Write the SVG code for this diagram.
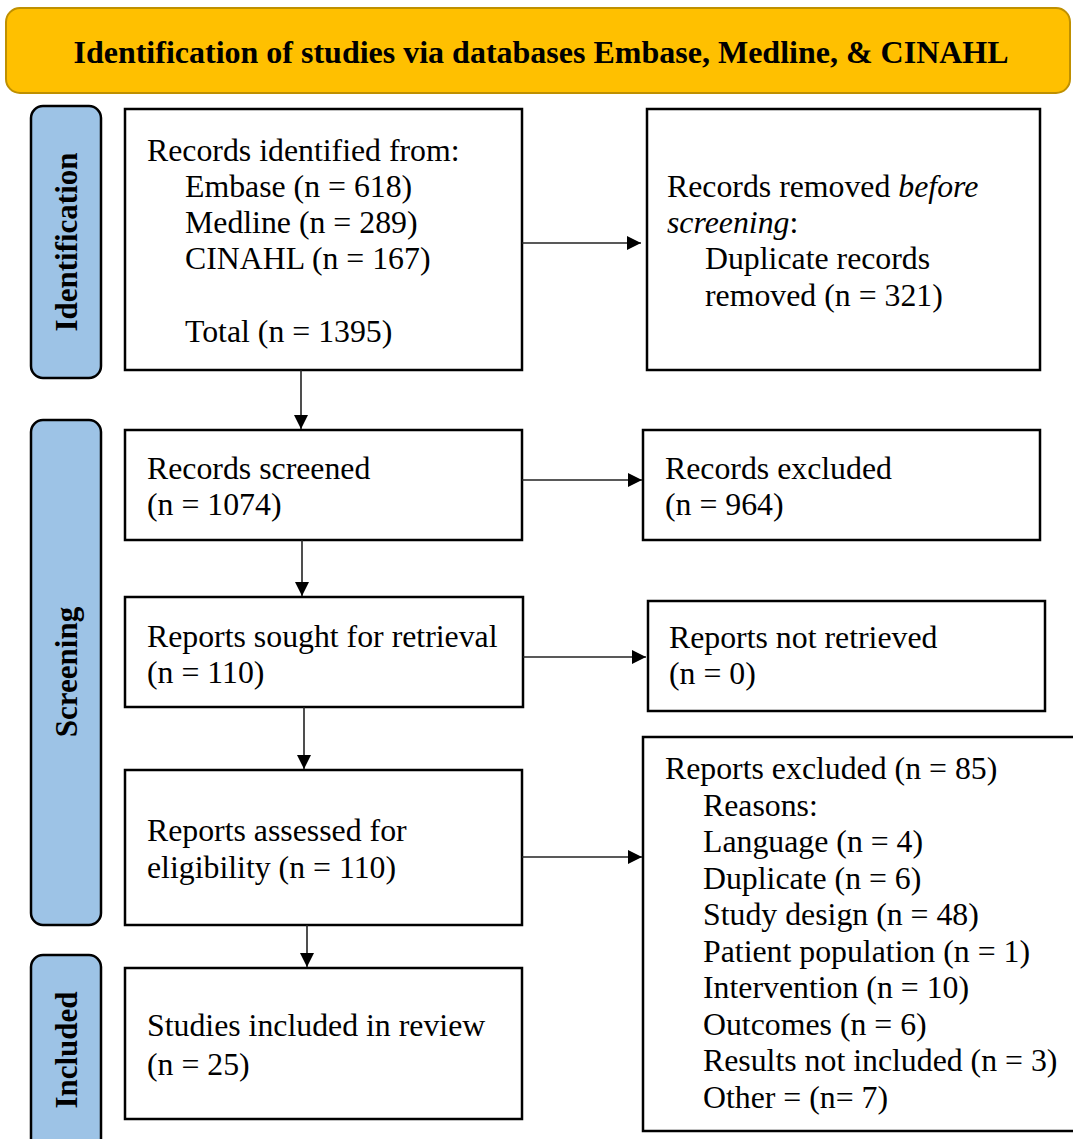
<svg xmlns="http://www.w3.org/2000/svg" width="1073" height="1139" viewBox="0 0 1073 1139">
<style>
.box{fill:#fff;stroke:#000;stroke-width:2.5}
.band{fill:#9DC3E6;stroke:#000;stroke-width:2.5}
.t{font-family:"Liberation Serif","Times New Roman",serif;font-size:31.8px;fill:#000}
.b{font-family:"Liberation Serif","Times New Roman",serif;font-size:31px;font-weight:bold;fill:#000}
.c{stroke:#222;stroke-width:1.6;fill:none;marker-end:url(#ah)}
</style>
<defs>
<marker id="ah" viewBox="0 0 10 10" refX="10" refY="5" markerWidth="14" markerHeight="14" markerUnits="userSpaceOnUse" orient="auto">
<path d="M0,0 L10,5 L0,10 z" fill="#000"/>
</marker>
</defs>
<rect width="1073" height="1139" fill="#fff"/>
<g id="title">
<rect x="6" y="8" width="1064" height="85" rx="14" fill="#FFC000" stroke="#BF9000" stroke-width="2"/>
<text class="b" x="541" y="63" text-anchor="middle" style="font-size:32px">Identification of studies via databases Embase, Medline, &amp; CINAHL</text>
</g>
<g id="band-identification">
<rect class="band" x="31" y="106" width="70" height="272" rx="12"/>
<text class="b" transform="translate(77,242) rotate(-90)" text-anchor="middle">Identification</text>
</g>
<g id="band-screening">
<rect class="band" x="31" y="420" width="70" height="505" rx="12"/>
<text class="b" transform="translate(77,672) rotate(-90)" text-anchor="middle">Screening</text>
</g>
<g id="band-included">
<rect class="band" x="31" y="955" width="70" height="200" rx="12"/>
<text class="b" transform="translate(77,1050) rotate(-90)" text-anchor="middle">Included</text>
</g>
<g id="identified">
<rect class="box" x="125" y="109" width="397" height="261"/>
<text class="t" x="147" y="161">Records identified from:</text>
<text class="t" x="185" y="197">Embase (n = 618)</text>
<text class="t" x="185" y="233">Medline (n = 289)</text>
<text class="t" x="185" y="269">CINAHL (n = 167)</text>
<text class="t" x="185" y="342">Total (n = 1395)</text>
</g>
<g id="removed">
<rect class="box" x="647" y="109" width="393" height="261"/>
<text class="t" x="667" y="197">Records removed <tspan font-style="italic">before</tspan></text>
<text class="t" x="667" y="233"><tspan font-style="italic">screening</tspan>:</text>
<text class="t" x="705" y="269">Duplicate records</text>
<text class="t" x="705" y="306">removed (n = 321)</text>
</g>
<g id="screened">
<rect class="box" x="125" y="430" width="397" height="110"/>
<text class="t" x="147" y="479">Records screened</text>
<text class="t" x="147" y="515">(n = 1074)</text>
</g>
<g id="excluded">
<rect class="box" x="643" y="430" width="397" height="110"/>
<text class="t" x="665" y="479">Records excluded</text>
<text class="t" x="665" y="515">(n = 964)</text>
</g>
<g id="sought">
<rect class="box" x="125" y="597" width="398" height="110"/>
<text class="t" x="147" y="647">Reports sought for retrieval</text>
<text class="t" x="147" y="683">(n = 110)</text>
</g>
<g id="notretrieved">
<rect class="box" x="648" y="601" width="397" height="110"/>
<text class="t" x="669" y="648">Reports not retrieved</text>
<text class="t" x="669" y="684">(n = 0)</text>
</g>
<g id="assessed">
<rect class="box" x="125" y="770" width="397" height="155"/>
<text class="t" x="147" y="841">Reports assessed for</text>
<text class="t" x="147" y="878">eligibility (n = 110)</text>
</g>
<g id="reportsexcluded">
<rect class="box" x="643" y="737" width="440" height="394"/>
<text class="t" x="665" y="779">Reports excluded (n = 85)</text>
<text class="t" x="703" y="816">Reasons:</text>
<text class="t" x="703" y="852">Language (n = 4)</text>
<text class="t" x="703" y="889">Duplicate (n = 6)</text>
<text class="t" x="703" y="925">Study design (n = 48)</text>
<text class="t" x="703" y="962">Patient population (n = 1)</text>
<text class="t" x="703" y="998">Intervention (n = 10)</text>
<text class="t" x="703" y="1035">Outcomes (n = 6)</text>
<text class="t" x="703" y="1071">Results not included (n = 3)</text>
<text class="t" x="703" y="1108">Other = (n= 7)</text>
</g>
<g id="included">
<rect class="box" x="125" y="968" width="397" height="151"/>
<text class="t" x="147" y="1036">Studies included in review</text>
<text class="t" x="147" y="1075">(n = 25)</text>
</g>
<g id="connectors">
<line class="c" x1="522" y1="243" x2="641" y2="243"/>
<line class="c" x1="522" y1="480" x2="642" y2="480"/>
<line class="c" x1="523" y1="657" x2="646" y2="657"/>
<line class="c" x1="522" y1="857" x2="642" y2="857"/>
<line class="c" x1="301" y1="370" x2="301" y2="429"/>
<line class="c" x1="302" y1="540" x2="302" y2="596"/>
<line class="c" x1="304" y1="707" x2="304" y2="769"/>
<line class="c" x1="307" y1="925" x2="307" y2="967"/>
</g>
</svg>
